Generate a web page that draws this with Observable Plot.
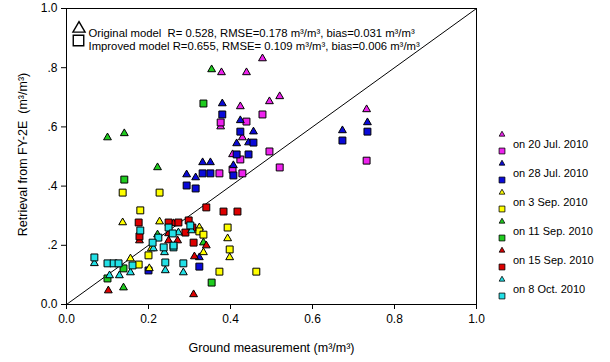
<!DOCTYPE html>
<html><head><meta charset="utf-8">
<script src="https://cdn.jsdelivr.net/npm/d3@7"></script>
<script src="https://cdn.jsdelivr.net/npm/@observablehq/plot@0.6"></script>
<style>
html,body{margin:0;padding:0;background:#fff;}
#chart svg{display:block;}
</style></head><body><div id="chart"></div>
<script>
// Dates (series) and colours
const dates = ["20 Jul. 2010", "28 Jul. 2010", "3 Sep. 2010", "11 Sep. 2010", "15 Sep. 2010", "8 Oct. 2010"];
const colors = ["#ee22ee", "#0a0ad8", "#ffff00", "#1fcc1f", "#dd0000", "#22e0e6"];

// [ground measurement, retrieval] — original model (triangles)
const origJul20 = [[0.478,0.831],[0.378,0.784],[0.439,0.784],[0.424,0.669],[0.495,0.686],[0.520,0.703],[0.376,0.601],[0.429,0.564],[0.405,0.507],[0.732,0.659]];
const origJul28 = [[0.380,0.679],[0.424,0.622],[0.456,0.584],[0.444,0.547],[0.415,0.544],[0.407,0.470],[0.332,0.480],[0.351,0.480],[0.293,0.439],[0.315,0.429],[0.673,0.588],[0.734,0.615],[0.324,0.159]];
const origSep3  = [[0.137,0.277],[0.227,0.280],[0.324,0.260],[0.393,0.223],[0.398,0.159],[0.334,0.176],[0.207,0.189],[0.156,0.155],[0.202,0.122]];
const origSep11 = [[0.100,0.564],[0.141,0.578],[0.222,0.463],[0.354,0.794],[0.334,0.209],[0.222,0.236],[0.139,0.057]];
const origSep15 = [[0.102,0.047],[0.310,0.034],[0.312,0.162],[0.249,0.216],[0.271,0.216],[0.341,0.199],[0.261,0.274],[0.178,0.216],[0.249,0.240]];
const origOct8  = [[0.068,0.139],[0.105,0.098],[0.129,0.098],[0.156,0.108],[0.239,0.176],[0.241,0.115],[0.285,0.108],[0.273,0.243],[0.305,0.250],[0.212,0.189]];

// improved model (squares)
const imprJul20 = [[0.478,0.642],[0.439,0.618],[0.376,0.615],[0.495,0.517],[0.424,0.490],[0.405,0.456],[0.520,0.463],[0.373,0.443],[0.429,0.443],[0.732,0.486]];
const imprJul28 = [[0.380,0.642],[0.424,0.584],[0.456,0.547],[0.444,0.507],[0.415,0.507],[0.407,0.436],[0.332,0.443],[0.351,0.443],[0.293,0.402],[0.315,0.392],[0.673,0.554],[0.734,0.584],[0.324,0.128],[0.200,0.115]];
const imprSep3  = [[0.137,0.378],[0.227,0.378],[0.180,0.318],[0.324,0.247],[0.334,0.236],[0.393,0.260],[0.398,0.186],[0.200,0.166],[0.176,0.135],[0.373,0.111],[0.463,0.111]];
const imprSep11 = [[0.334,0.679],[0.141,0.422],[0.100,0.088],[0.139,0.122],[0.354,0.074]];
const imprSep15 = [[0.176,0.277],[0.249,0.277],[0.273,0.277],[0.298,0.284],[0.307,0.260],[0.290,0.243],[0.178,0.230],[0.310,0.209],[0.341,0.328],[0.383,0.314],[0.417,0.314]];
const imprOct8  = [[0.068,0.159],[0.100,0.139],[0.115,0.139],[0.127,0.139],[0.161,0.132],[0.180,0.250],[0.249,0.260],[0.224,0.226],[0.210,0.209],[0.237,0.193],[0.261,0.193],[0.241,0.142],[0.285,0.139],[0.302,0.267],[0.259,0.240],[0.261,0.199]];

const originalSeries = [origJul20, origJul28, origSep3, origSep11, origSep15, origOct8];
const improvedSeries = [imprJul20, imprJul28, imprSep3, imprSep11, imprSep15, imprOct8];

// Ticks
const tickValues = [0, 0.2, 0.4, 0.6, 0.8, 1.0];
const xTickLabels = ["0.0", "0.2", "0.4", "0.6", "0.8", "1.0"];
const yTickLabels = ["0.0", ".2", ".4", ".6", ".8", "1.0"];
const oneToOne = [0, 1];

// Texts
const xTitle = "Ground measurement (m³/m³)";
const yTitle = "Retrieval from FY-2E  (m³/m³)";
const statsOriginal = "Original model  R= 0.528, RMSE=0.178 m³/m³, bias=0.031 m³/m³";
const statsImproved = "Improved model R=0.655, RMSE= 0.109 m³/m³, bias=0.006 m³/m³";

const font = "'Liberation Sans', Arial, sans-serif";
const idx = d => tickValues.findIndex(t => Math.abs(t - d) < 1e-9);

const pointMarks = [];
dates.forEach((d, i) => {
  pointMarks.push(Plot.dot(originalSeries[i], {x: p => p[0], y: p => p[1], symbol: "triangle", r: 2.9, fill: colors[i], stroke: "black", strokeWidth: 1}));
  pointMarks.push(Plot.dot(improvedSeries[i], {x: p => p[0], y: p => p[1], symbol: "square", r: 3.9, fill: colors[i], stroke: "black", strokeWidth: 1}));
});

const plot = Plot.plot({
  width: 610, height: 362,
  marginLeft: 66, marginRight: 134, marginTop: 8, marginBottom: 58,
  style: {fontFamily: font, fontSize: "12px", color: "#000", background: "#fff", overflow: "visible"},
  x: {domain: [0, 1]},
  y: {domain: [0, 1]},
  marks: [
    Plot.axisX({ticks: tickValues, tickFormat: d => xTickLabels[idx(d)], tickSize: 5, tickPadding: 5, label: null, fontSize: 12}),
    Plot.axisY({ticks: tickValues, tickFormat: d => yTickLabels[idx(d)], tickSize: 5, tickPadding: 4, label: null, fontSize: 12}),
    Plot.line(oneToOne, {x: d => d, y: d => d, stroke: "black", strokeWidth: 1}),
    ...pointMarks,
    Plot.frame({stroke: "black", strokeWidth: 1}),
    Plot.text([xTitle], {text: d => d, frameAnchor: "bottom", textAnchor: "middle", dy: 47, fontSize: 12.5}),
    Plot.text([yTitle], {text: d => d, frameAnchor: "left", textAnchor: "middle", rotate: -90, dx: -44, dy: -2, fontSize: 12.5}),
    Plot.text([statsOriginal], {text: d => d, frameAnchor: "top-left", textAnchor: "start", dx: 22, dy: 20, fontSize: 11.3}),
    Plot.text([statsImproved], {text: d => d, frameAnchor: "top-left", textAnchor: "start", dx: 22, dy: 33, fontSize: 11.3})
  ]
});
document.getElementById("chart").appendChild(plot);

// Annotation symbols and legend
const svg = d3.select(plot);
const ann = svg.append("g");
ann.append("path").attr("d", d3.symbol(d3.symbolTriangle, 64)()).attr("transform", "translate(79,28.6)")
  .attr("fill", "white").attr("stroke", "black").attr("stroke-width", 1.4);
ann.append("path").attr("d", d3.symbol(d3.symbolSquare, 110)()).attr("transform", "translate(78.5,40.5)")
  .attr("fill", "white").attr("stroke", "black").attr("stroke-width", 1.4);

const leg = svg.append("g").attr("font-family", font).attr("font-size", 11).attr("text-anchor", "start");
dates.forEach((d, i) => {
  const g = leg.append("g").attr("transform", `translate(502,${144 + 29 * i})`);
  g.append("path").attr("d", d3.symbol(d3.symbolTriangle, 14)()).attr("transform", "translate(0,-9.5)")
    .attr("fill", colors[i]).attr("stroke", "black").attr("stroke-width", 0.8);
  g.append("path").attr("d", d3.symbol(d3.symbolSquare, 34)()).attr("transform", "translate(0,7)")
    .attr("fill", colors[i]).attr("stroke", "black").attr("stroke-width", 0.8);
  g.append("text").attr("x", 11).attr("y", 0).attr("dy", "0.35em").attr("text-anchor", "start").attr("fill", "black").text("on " + d);
});
</script></body></html>
